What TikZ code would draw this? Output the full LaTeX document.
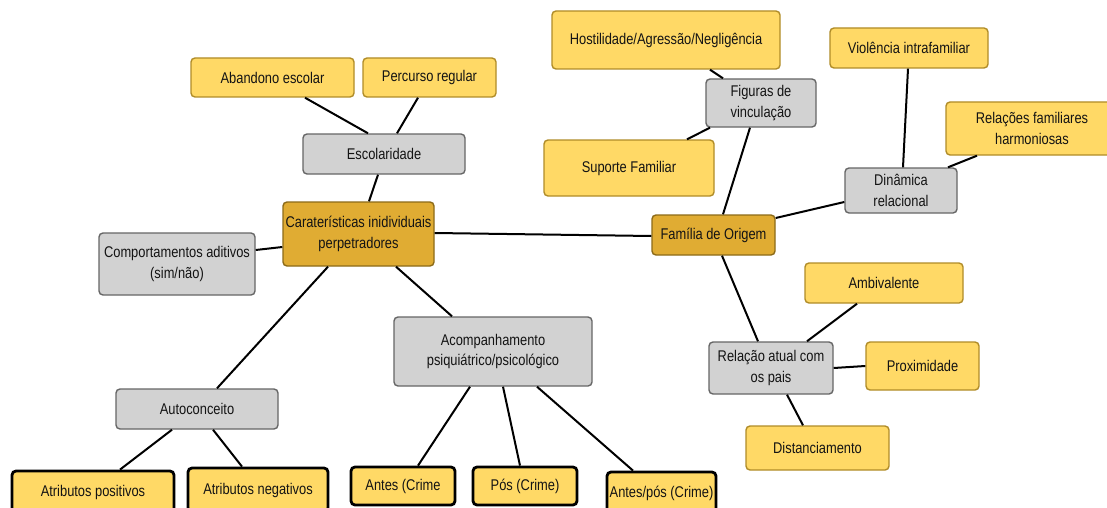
\documentclass[tikz,border=0pt]{standalone}
\usepackage{fontspec}
\setmainfont[FakeStretch=0.83]{Liberation Sans}
\definecolor{yel}{HTML}{FFD966}
\definecolor{yelb}{HTML}{B08C28}
\definecolor{gry}{HTML}{D2D2D2}
\definecolor{gryb}{HTML}{666666}
\definecolor{gold}{HTML}{E0AC33}
\definecolor{goldb}{HTML}{8C6A18}
\definecolor{txt}{HTML}{141414}
\tikzset{
  box/.style={rounded corners=4pt, draw, line width=1.4pt, align=center,
              inner sep=2pt, text=txt, font=\fontsize{15.5}{20.5}\selectfont},
  ybox/.style={box, fill=yel, draw=yelb},
  gbox/.style={box, fill=gry, draw=gryb},
  cbox/.style={box, fill=gold, draw=goldb},
  kbox/.style={box, fill=yel, draw=black, line width=2.8pt},
  link/.style={line width=2pt, black}
}
\begin{document}
\begin{tikzpicture}[x=1pt, y=-1pt]
\useasboundingbox (0,0) rectangle (1107,508);
\fill[white] (0,0) rectangle (1107,508);
\clip (0,0) rectangle (1107,508);

% left branch: individual characteristics
\node[cbox, minimum width=151pt, minimum height=64pt] (carat) at (358.5,234) {Caraterísticas inidividuais\\perpetradores};
\node[gbox, minimum width=162pt, minimum height=40pt] (escol) at (384,154) {Escolaridade};
\node[ybox, minimum width=163pt, minimum height=39pt] (abandono) at (272.5,77.5) {Abandono escolar};
\node[ybox, minimum width=133pt, minimum height=39pt] (percurso) at (429.5,77.5) {Percurso regular};
\node[gbox, minimum width=156pt, minimum height=62pt] (comport) at (177,264) {Comportamentos aditivos\\(sim/não)};
\node[gbox, minimum width=198pt, minimum height=69pt] (acomp) at (493,351.5) {Acompanhamento\\psiquiátrico/psicológico};
\node[gbox, minimum width=162pt, minimum height=40pt] (autoc) at (197,409) {Autoconceito};
\node[kbox, minimum width=162pt, minimum height=42pt] (atripos) at (93,492) {Atributos positivos};
\node[kbox, minimum width=140pt, minimum height=44pt] (atrineg) at (258,490) {Atributos negativos};
\node[kbox, minimum width=104pt, minimum height=38pt] (antes) at (403,486) {Antes (Crime};
\node[kbox, minimum width=104pt, minimum height=38pt] (pos) at (525,486) {Pós (Crime)};
\node[kbox, minimum width=109pt, minimum height=42pt] (antespos) at (661.5,493) {Antes/pós (Crime)};

% right branch: family of origin
\node[cbox, minimum width=123pt, minimum height=40pt] (familia) at (713.5,235) {Família de Origem};
\node[ybox, minimum width=228pt, minimum height=58pt] (hostil) at (666,40) {Hostilidade/Agressão/Negligência};
\node[gbox, minimum width=110pt, minimum height=48pt] (figuras) at (761,103) {Figuras de\\vinculação};
\node[ybox, minimum width=170pt, minimum height=56pt] (suporte) at (629,168) {Suporte Familiar};
\node[ybox, minimum width=158pt, minimum height=40pt] (violencia) at (909,48) {Violência intrafamiliar};
\node[ybox, minimum width=172pt, minimum height=53pt] (relacoes) at (1032,128.5) {Relações familiares\\harmoniosas};
\node[gbox, minimum width=112pt, minimum height=45pt] (dinamica) at (901,190.5) {Dinâmica\\relacional};
\node[gbox, minimum width=124pt, minimum height=52pt] (relacao) at (771,368) {Relação atual com\\os pais};
\node[ybox, minimum width=158pt, minimum height=40pt] (ambival) at (884,283) {Ambivalente};
\node[ybox, minimum width=113pt, minimum height=48pt] (proxim) at (922.5,366) {Proximidade};
\node[ybox, minimum width=143pt, minimum height=44pt] (distanc) at (817.5,448) {Distanciamento};

% connectors
\draw[link] ([xshift=32.5pt]abandono.south) -- ([xshift=-16pt]escol.north);
\draw[link] ([xshift=-11.5pt]percurso.south) -- ([xshift=13pt]escol.north);
\draw[link] ([xshift=-6pt]escol.south) -- ([xshift=10.5pt]carat.north);
\draw[link] ([yshift=14pt]comport.east) -- ([yshift=-13pt]carat.west);
\draw[link] ([yshift=1pt]carat.east) -- ([yshift=-1pt]familia.west);
\draw[link] ([xshift=-30.5pt]carat.south) -- ([xshift=20pt]autoc.north);
\draw[link] ([xshift=37.5pt]carat.south) -- ([xshift=-41pt]acomp.north);
\draw[link] ([xshift=-25pt]autoc.south) -- ([xshift=27pt]atripos.north);
\draw[link] ([xshift=16pt]autoc.south) -- ([xshift=-16pt]atrineg.north);
\draw[link] ([xshift=-23pt]acomp.south) -- ([xshift=15pt]antes.north);
\draw[link] ([xshift=10pt]acomp.south) -- ([xshift=-5pt]pos.north);
\draw[link] ([xshift=44pt]acomp.south) -- ([xshift=-28.5pt]antespos.north);
\draw[link] ([xshift=44pt]hostil.south) -- ([xshift=-38pt]figuras.north);
\draw[link] ([xshift=-51pt]figuras.south) -- ([xshift=58pt]suporte.north);
\draw[link] ([xshift=-11pt]figuras.south) -- ([xshift=9.5pt]familia.north);
\draw[link] ([xshift=-1pt]violencia.south) -- ([xshift=2pt]dinamica.north);
\draw[link] ([xshift=-55pt]relacoes.south) -- ([xshift=47pt]dinamica.north);
\draw[link] ([yshift=-11.5pt]dinamica.west) -- ([yshift=17pt]familia.east);
\draw[link] ([xshift=8.5pt]familia.south) -- ([xshift=-13pt]relacao.north);
\draw[link] ([xshift=-27pt]ambival.south) -- ([xshift=36pt]relacao.north);
\draw[link] (relacao.east) -- (proxim.west);
\draw[link] ([xshift=16pt]relacao.south) -- ([xshift=-14.5pt]distanc.north);
\end{tikzpicture}
\end{document}
